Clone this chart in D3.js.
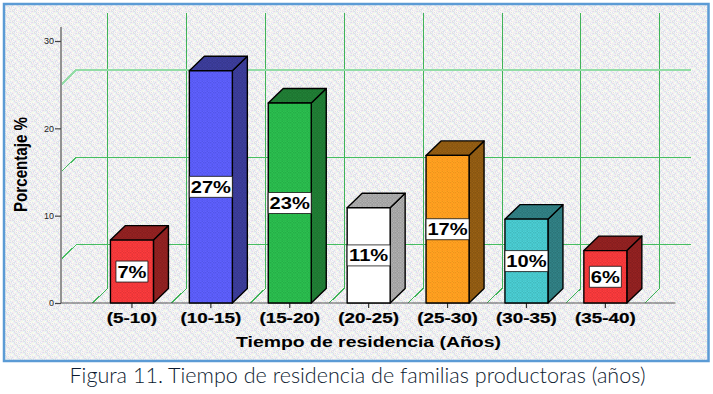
<!DOCTYPE html>
<html>
<head>
<meta charset="utf-8">
<script src="https://cdn.jsdelivr.net/npm/d3@7"></script>
<style>
  html, body { margin: 0; padding: 0; background: #fff; }
  svg { display: block; }
  text { font-family: "Liberation Sans", Arial, sans-serif; }
</style>
</head>
<body>
<svg id="chart" width="713" height="394"></svg>
<script>
// values
const categories = ['(5-10)', '(10-15)', '(15-20)', '(20-25)', '(25-30)', '(30-35)', '(35-40)'];
const percentages = [7.2, 26.6, 22.9, 10.9, 16.9, 9.6, 6.0];
const barLabels = ['7%', '27%', '23%', '11%', '17%', '10%', '6%'];
const frontColors = ['#f2383a', '#5a5cf6', '#29b84c', '#ffffff', '#fd9d1f', '#47c6cb', '#f2383a'];
const sideColors = ['#8e2020', '#3a3b96', '#1f7a33', '#a6a6a6', '#8f5a12', '#2f7c80', '#8e2020'];
const yTicks = [0, 10, 20, 30];
const gridValues = [5, 15, 25];

const svg = d3.select('#chart');
const defs = svg.append('defs');

const depthX = 15, depthY = 14.5; // 3d offset of the back wall

const y = d3.scaleLinear().domain([0, 30]).range([303, 41]);
const x = d3.scaleBand().domain(categories).range([92.5, 644.8]).paddingInner(0.455).paddingOuter(0.2275);
const step = x.step();
const bandEdges = d3.range(categories.length + 1).map(i => 92.5 + step * i);

// dithered fill, the source picture is a low colour gif
function ditherPattern(id, colors, size) {
    const p = defs.append('pattern').attr('id', id)
        .attr('patternUnits', 'userSpaceOnUse')
        .attr('width', size).attr('height', size);
    for (let i = 0; i < size; i++) {
        for (let j = 0; j < size; j++) {
            p.append('rect')
                .attr('x', i).attr('y', j).attr('width', 1).attr('height', 1)
                .attr('shape-rendering', 'crispEdges')
                .attr('fill', colors[(i * 3 + j * 5 + (i * j) % 3) % colors.length]);
        }
    }
}

ditherPattern('bg', ['#f4e6f4', '#e6f2f6', '#f8f8e8', '#e2e2ee', '#f6eef0', '#ecf8ec', '#dedee6', '#fafafa'], 11);
frontColors.forEach((c, i) => {
    const d = d3.color(c);
    if (c !== '#ffffff') ditherPattern('front' + i, [c, d.darker(0.18).formatHex(), d.brighter(0.15).formatHex()], 5);
});
sideColors.forEach((c, i) => {
    ditherPattern('side' + i, [c, d3.color(c).darker(0.2).formatHex(), d3.color(c).brighter(0.2).formatHex()], 5);
});

// panel with blue frame
svg.append('rect')
    .attr('x', 4).attr('y', 4).attr('width', 704.5).attr('height', 357)
    .attr('fill', 'url(#bg)')
    .attr('stroke', '#5b9bd5').attr('stroke-width', 2.5);

const grid = svg.append('g').attr('fill', 'none').attr('shape-rendering', 'crispEdges');

// vertical gridlines on back wall + the diagonal on the floor
grid.selectAll('path.vgrid')
    .data(bandEdges)
    .enter()
    .append('path')
    .attr('class', 'vgrid')
    .attr('d', d => `M${d + depthX},13 V${y(0) - depthY} L${d},${y(0)}`)
    .attr('stroke', '#3fb358')
    .attr('stroke-width', 1);

// horizontal gridlines
grid.selectAll('path.hgrid')
    .data(gridValues)
    .enter()
    .append('path')
    .attr('class', 'hgrid')
    .attr('d', d => `M61,${y(d)} L${61 + depthX},${y(d) - depthY} H691`)
    .attr('stroke', d => d === 25 ? '#93dca6' : '#45bd60')
    .attr('stroke-width', d => d === 25 ? 2 : 1);

// axes
const yAxis = svg.append('g')
    .attr('transform', 'translate(61,0)')
    .call(d3.axisLeft(y).tickValues(yTicks).tickSize(6).tickSizeOuter(0));
yAxis.select('.domain').attr('d', `M0,${y(0)} V27`).attr('stroke', '#929292').attr('stroke-width', 2);
yAxis.selectAll('.tick line').attr('stroke', '#444').attr('stroke-width', 1.2);
yAxis.selectAll('.tick text')
    .attr('font-size', 9).attr('fill', '#222').attr('x', -7);

svg.append('line')
    .attr('x1', 61).attr('x2', 675.5)
    .attr('y1', y(0)).attr('y2', y(0))
    .attr('stroke', '#555').attr('stroke-width', 1.2);

const xAxis = svg.append('g')
    .attr('transform', `translate(0,${y(0)})`)
    .call(d3.axisBottom(x).tickSize(5).tickSizeOuter(0));
xAxis.select('.domain').remove();
xAxis.selectAll('.tick line').attr('stroke', '#333').attr('stroke-width', 1.2);
xAxis.selectAll('.tick text')
    .attr('y', 0).attr('dy', 0)
    .attr('font-size', 14.5).attr('font-weight', 'bold').attr('fill', '#000')
    .attr('stroke', '#000').attr('stroke-width', 0.2)
    .attr('text-anchor', 'middle')
    .attr('transform', 'translate(0,20) scale(1.3,1)');

// bars
const bars = svg.append('g')
    .selectAll('g')
    .data(categories)
    .enter()
    .append('g')
    .attr('stroke', '#000')
    .attr('stroke-width', 1.4)
    .attr('stroke-linejoin', 'round');

bars.each(function(d, i) {
    const g = d3.select(this);
    const x0 = x(d), x1 = x(d) + x.bandwidth();
    const top = y(percentages[i]), base = y(0);
    const pts = a => a.map(p => p.join(',')).join(' ');
    // side
    g.append('polygon')
        .attr('points', pts([[x1, top], [x1 + depthX, top - depthY], [x1 + depthX, base - depthY], [x1, base]]))
        .attr('fill', `url(#side${i})`);
    // top
    g.append('polygon')
        .attr('points', pts([[x0, top], [x0 + depthX, top - depthY], [x1 + depthX, top - depthY], [x1, top]]))
        .attr('fill', `url(#side${i})`);
    // front
    g.append('rect')
        .attr('x', x0).attr('y', top)
        .attr('width', x.bandwidth()).attr('height', base - top)
        .attr('fill', frontColors[i] === '#ffffff' ? '#ffffff' : `url(#front${i})`);

    // value label with white box
    const cx = x0 + x.bandwidth() / 2, cy = (top + base) / 2;
    const boxW = barLabels[i].length > 2 ? x.bandwidth() : 32;
    g.append('rect')
        .attr('x', cx - boxW / 2).attr('y', cy - 10.5)
        .attr('width', boxW).attr('height', 21)
        .attr('fill', '#fff').attr('stroke', '#111').attr('stroke-width', 0.8);
    g.append('text')
        .attr('transform', `translate(${cx},${cy + 6}) scale(1.22,1)`)
        .attr('text-anchor', 'middle')
        .attr('font-size', 16.5).attr('font-weight', 'bold')
        .attr('stroke', 'none').attr('fill', '#000')
        .text(barLabels[i]);
});

// axis titles
svg.append('text')
    .attr('x', 368.5).attr('y', 347)
    .attr('text-anchor', 'middle')
    .attr('font-size', 14.5).attr('font-weight', 'bold')
    .attr('textLength', 265).attr('lengthAdjust', 'spacingAndGlyphs')
    .text('Tiempo de residencia (Años)');

svg.append('text')
    .attr('transform', 'translate(27,164.5) rotate(-90)')
    .attr('text-anchor', 'middle')
    .attr('font-size', 17.5).attr('font-weight', 'bold')
    .attr('textLength', 95).attr('lengthAdjust', 'spacingAndGlyphs')
    .text('Porcentaje %');

// figure caption
svg.append('text')
    .attr('x', 69.5).attr('y', 383)
    .attr('font-size', 21.5).attr('fill', '#0c1a30')
    .style('font-family', 'Lato, "Open Sans", sans-serif')
    .style('font-weight', 300)
    .attr('textLength', 576).attr('lengthAdjust', 'spacingAndGlyphs')
    .text('Figura 11. Tiempo de residencia de familias productoras (años)');
</script>
</body>
</html>
